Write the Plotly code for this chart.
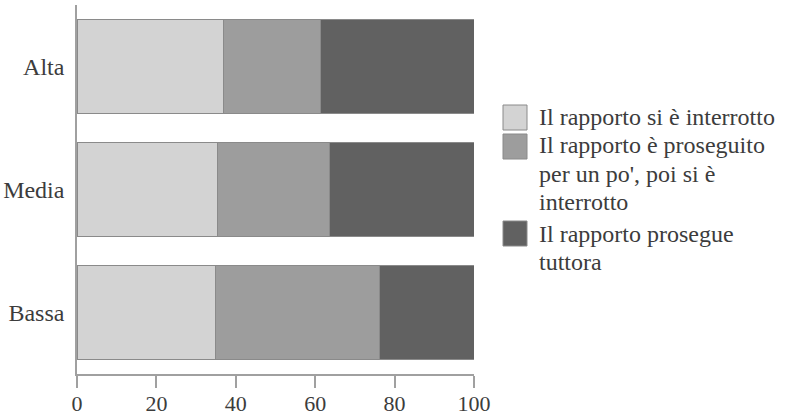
import plotly.graph_objects as go

categories = ["Bassa", "Media", "Alta"]
series_names = [
    "Il rapporto si è interrotto",
    "Il rapporto è proseguito<br>per un po', poi si è<br>interrotto",
    "Il rapporto prosegue<br>tuttora",
]
interrotto = [34.8, 35.4, 36.8]
proseguito_poi_interrotto = [41.3, 28.3, 24.5]
prosegue_tuttora = [23.9, 36.3, 38.7]
series_values = [interrotto, proseguito_poi_interrotto, prosegue_tuttora]
colors = ["#d3d3d3", "#9d9d9d", "#616161"]
x_ticks = [0, 20, 40, 60, 80, 100]

FONT = "Liberation Serif"
TXT = "#3c3c3c"
FS = 24

fig = go.Figure()
for name, vals, col in zip(series_names, series_values, colors):
    fig.add_trace(go.Bar(
        y=categories, x=vals, name=name.replace("<br>", " "), orientation="h",
        marker=dict(color=col, line=dict(color="#8a8a8a", width=1)),
        width=0.76, showlegend=False,
    ))

# custom legend (large swatches) in paper coordinates
L, R, T, B = 77, 311, 5, 44
W, H = 785, 418
pw, ph = W - L - R, H - T - B
def px2x(px):
    return (px - L) / pw
def py2y(py):
    return (H - B - py) / ph

box_tops = [105, 134, 221]
first_baselines = [125, 153, 241.7]
LINE = 28.5
for name, col, bt, bl in zip(series_names, colors, box_tops, first_baselines):
    fig.add_shape(type="rect", xref="paper", yref="paper",
                  x0=px2x(503), x1=px2x(527), y0=py2y(bt), y1=py2y(bt + 25),
                  fillcolor=col, line=dict(color="#8a8a8a", width=1))
    for i, line in enumerate(name.split("<br>")):
        cy = bl + i * LINE - 8
        fig.add_annotation(xref="paper", yref="paper", x=px2x(537), y=py2y(cy),
                           xanchor="left", yanchor="middle", align="left",
                           text=line, showarrow=False,
                           font=dict(family=FONT, size=FS, color=TXT))

fig.update_layout(
    barmode="stack",
    width=W, height=H,
    margin=dict(l=L, r=R, t=T, b=B, pad=0, autoexpand=False),
    paper_bgcolor="white", plot_bgcolor="white",
    font=dict(family=FONT, size=FS, color=TXT),
)
fig.update_xaxes(range=[0, 100], tickvals=x_ticks, ticktext=[str(t) for t in x_ticks],
                 showgrid=False, zeroline=False, showline=True, linecolor="#a0a0a0",
                 linewidth=1.5, ticks="outside", ticklen=12, tickcolor="#a0a0a0",
                 tickwidth=1.5, ticklabelstandoff=-3,
                 tickfont=dict(family=FONT, size=22, color=TXT))
fig.update_yaxes(range=[-0.5, 2.5], showgrid=False, zeroline=False, showline=True,
                 linecolor="#a0a0a0", linewidth=1.5, ticks="", ticklabelstandoff=6,
                 tickfont=dict(family=FONT, size=FS, color=TXT))

fig.write_html("out.html", config={"displayModeBar": False},
               post_script="document.body.style.margin='0px';")
